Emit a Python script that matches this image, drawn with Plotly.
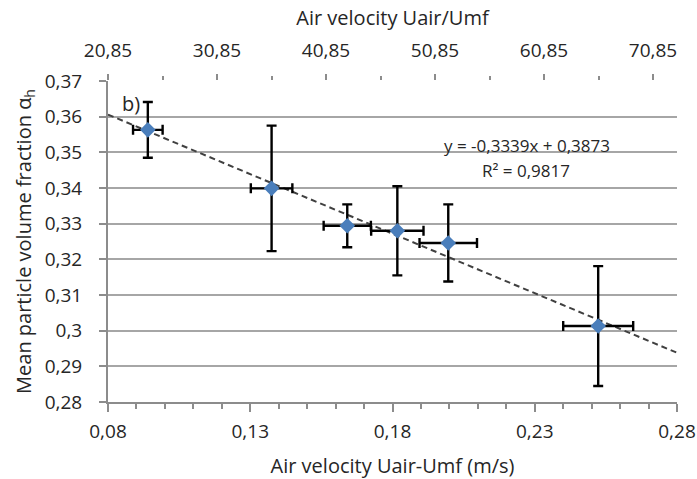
import plotly.graph_objects as go

# data
x_vals = [0.0940, 0.1375, 0.1641, 0.1817, 0.1996, 0.2523]
y_vals = [0.3563, 0.3399, 0.3294, 0.3280, 0.3246, 0.3013]
x_err = [0.0052, 0.0073, 0.0083, 0.0092, 0.0101, 0.0123]
y_err = [0.0078, 0.0176, 0.0060, 0.0125, 0.0108, 0.0168]

slope = -0.3339
intercept = 0.3873
trend_x = [0.08, 0.28]
trend_y = [slope * v + intercept for v in trend_x]

x_ticks = [0.08, 0.13, 0.18, 0.23, 0.28]
x_ticktext = ["0,08", "0,13", "0,18", "0,23", "0,28"]
y_ticks = [0.28, 0.29, 0.30, 0.31, 0.32, 0.33, 0.34, 0.35, 0.36, 0.37]
y_ticktext = ["0,28", "0,29", "0,3", "0,31", "0,32", "0,33", "0,34", "0,35", "0,36", "0,37"]
top_ticks = [20.85, 30.85, 40.85, 50.85, 60.85, 70.85]
top_ticktext = ["20,85", "30,85", "40,85", "50,85", "60,85", "70,85"]
top_range = [20.85, 73.05]

FONT = "Open Sans"
TXT = "#262626"
AX = "#8C8C8C"

fig = go.Figure()
fig.add_trace(go.Scatter(
    x=trend_x, y=trend_y, mode="lines",
    line=dict(color="#404040", width=2, dash="6px,4px"),
    hoverinfo="skip", showlegend=False))
fig.add_trace(go.Scatter(
    x=x_vals, y=y_vals, mode="markers",
    marker=dict(symbol="diamond", size=12, color="#4A7EBB"),
    error_y=dict(type="data", array=y_err, color="black", thickness=2.4, width=5),
    error_x=dict(type="data", array=x_err, color="black", thickness=2.4, width=5),
    showlegend=False))
# invisible trace to carry the top axis
fig.add_trace(go.Scatter(
    x=top_range, y=[0.37, 0.37], xaxis="x2", mode="lines",
    line=dict(width=0), opacity=0, hoverinfo="skip", showlegend=False))

fig.update_layout(
    width=697, height=479,
    margin=dict(l=108, r=20, t=81, b=77),
    paper_bgcolor="white", plot_bgcolor="white",
    separators=", ",
    font=dict(family=FONT, color=TXT, size=19),
    xaxis=dict(
        range=[0.08, 0.28], tickvals=x_ticks, ticktext=x_ticktext,
        automargin=False,
        showgrid=False, zeroline=False,
        showline=True, linecolor=AX, linewidth=2,
        ticks="outside", ticklen=8, tickwidth=2, tickcolor=AX,
        minor=dict(dtick=0.01, tick0=0.08, ticks="outside", ticklen=5,
                   tickwidth=2, tickcolor=AX, showgrid=False),
        tickfont=dict(size=19, color=TXT),
        ticklabelstandoff=3,
        title=dict(text="Air velocity Uair-Umf (m/s)", font=dict(size=20, color=TXT), standoff=16),
    ),
    xaxis2=dict(
        overlaying="x", side="top", range=top_range,
        tickvals=top_ticks, ticktext=top_ticktext,
        automargin=False,
        showgrid=False, zeroline=False, showline=False,
        ticks="outside", ticklen=6, tickwidth=1.5, tickcolor=AX,
        minor=dict(dtick=5, tick0=20.85, ticks="outside", ticklen=4,
                   tickwidth=1.5, tickcolor=AX, showgrid=False),
        tickfont=dict(size=19, color=TXT),
        ticklabelstandoff=9,
        title=dict(text="Air velocity Uair/Umf", font=dict(size=20, color=TXT), standoff=6),
    ),
    yaxis=dict(
        range=[0.28, 0.37], tickvals=y_ticks, ticktext=y_ticktext,
        automargin=False,
        showgrid=True, gridcolor="#A6A6A6", gridwidth=2,
        zeroline=False, showline=True, linecolor=AX, linewidth=2,
        ticks="outside", ticklen=7, tickwidth=2, tickcolor=AX,
        tickfont=dict(size=19, color=TXT),
        ticklabelstandoff=13,
        title=dict(text="Mean particle volume fraction α<sub>h</sub>", font=dict(size=20, color=TXT), standoff=8),
    ),
    annotations=[
        dict(x=0.0881, y=0.3638, xref="x", yref="y", text="b)", showarrow=False,
             font=dict(size=20, color=TXT)),
        dict(x=0.2273, y=0.3518, xref="x", yref="y", text="y = -0,3339x + 0,3873",
             showarrow=False, font=dict(size=17, color=TXT)),
        dict(x=0.2268, y=0.3448, xref="x", yref="y", text="R² = 0,9817",
             showarrow=False, font=dict(size=17, color=TXT)),
    ],
)

fig.write_html("out.html")
